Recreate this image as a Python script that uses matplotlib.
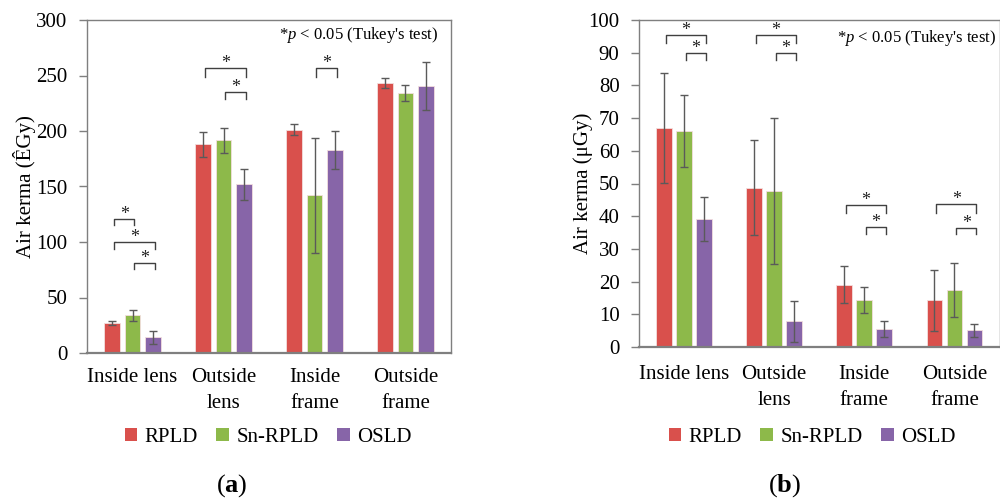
import matplotlib
matplotlib.use("Agg")
import matplotlib.pyplot as plt
import numpy as np
from matplotlib.patches import Patch

plt.rcParams['font.family'] = ['Liberation Serif', 'DejaVu Serif']
plt.rcParams['mathtext.fontset'] = 'custom'
plt.rcParams['mathtext.rm'] = 'Liberation Serif'
plt.rcParams['mathtext.it'] = 'Liberation Serif:italic'
plt.rcParams['mathtext.bf'] = 'Liberation Serif:bold'

categories = ["Inside lens", "Outside\nlens", "Inside\nframe", "Outside\nframe"]
series = ["RPLD", "Sn-RPLD", "OSLD"]
colors = ["#D9504C", "#8DB94A", "#8765A8"]

# Panel (a)
a_vals = {"RPLD": [27, 188, 201, 243.5],
          "Sn-RPLD": [34, 191.5, 142, 234],
          "OSLD": [14, 152, 183, 240.5]}
a_err = {"RPLD": [1.5, 11, 5, 4.5],
         "Sn-RPLD": [5, 11.5, 52, 7],
         "OSLD": [6, 14, 17, 21.5]}
# brackets: (group, bar_i, bar_j, y_top, y_leg)
a_brackets = [(0, 0, 1, 121, 115), (0, 0, 2, 100, 94), (0, 1, 2, 81.5, 76),
              (1, 0, 2, 257, 249), (1, 1, 2, 235, 228.5),
              (2, 1, 2, 257, 249)]

# Panel (b)
b_vals = {"RPLD": [67.1, 48.7, 19.1, 14.3],
          "Sn-RPLD": [66.0, 47.7, 14.3, 17.4],
          "OSLD": [39.2, 7.8, 5.6, 5.1]}
b_err = {"RPLD": [16.8, 14.5, 5.6, 9.4],
         "Sn-RPLD": [11.0, 22.4, 4.0, 8.2],
         "OSLD": [6.8, 6.4, 2.5, 2.0]}
b_brackets = [(0, 0, 2, 95.5, 92.9), (0, 1, 2, 89.8, 87.8),
              (1, 0, 2, 95.5, 92.9), (1, 1, 2, 89.8, 87.8),
              (2, 0, 2, 43.5, 41.0), (2, 1, 2, 36.6, 34.5),
              (3, 0, 2, 43.8, 41.1), (3, 1, 2, 36.3, 34.5)]

W = 10.0
H = 4.99
fig = plt.figure(figsize=(W, H), dpi=100)

offsets = np.array([-0.222, 0.0, 0.222])
bw = 0.175
x = np.arange(len(categories))
spine_c = "#7f7f7f"
err_c = "#5a5a5a"
fs = 15


def draw(ax, vals, errs, brackets, ymax, ystep, ylabel, note_x, note_y, pad, ylab_pad):
    for k, s in enumerate(series):
        ax.bar(x + offsets[k], vals[s], width=bw, color=colors[k],
               edgecolor="#f3dede", linewidth=0.6, zorder=2)
        ax.errorbar(x + offsets[k], vals[s], yerr=errs[s], fmt="none",
                    ecolor=err_c, elinewidth=1.0, capsize=3.2, capthick=1.0, zorder=3)
    for g, i, j, yt, yl in brackets:
        x1 = g + offsets[i] + 0.02
        x2 = g + offsets[j] + 0.02
        ax.plot([x1, x1, x2, x2], [yl, yt, yt, yl], color="#404040", lw=1.0, zorder=4)
        ax.text((x1 + x2) / 2, yt - ymax * 0.012, "*", ha="center", va="bottom",
                fontsize=13, color="#222222")
    ax.set_xlim(-0.5, 3.5)
    ax.set_ylim(0, ymax)
    ax.set_yticks(np.arange(0, ymax + 0.1, ystep))
    ax.set_xticks(x)
    ax.set_xticklabels(categories, fontsize=fs, linespacing=1.5)
    ax.tick_params(axis="x", length=0, pad=pad)
    ax.tick_params(axis="y", length=6, width=1.0, color=spine_c, labelsize=fs, pad=8)
    for sp in ax.spines.values():
        sp.set_color(spine_c)
        sp.set_linewidth(1.0)
    ax.spines["bottom"].set_linewidth(1.6)
    ax.set_ylabel(ylabel, fontsize=fs, labelpad=ylab_pad)
    ax.text(note_x, note_y, "*$\\it{p}$ < 0.05 (Tukey's test)",
            transform=ax.transAxes, ha="right", va="center", fontsize=12)


ax1 = fig.add_axes([0.087, 1 - 353 / 499, 0.364, (353 - 20) / 499])
draw(ax1, a_vals, a_err, a_brackets, 300, 50, "Air kerma (ÊGy)", 0.965, 0.955, 11, 0.5)

ax2 = fig.add_axes([0.639, 1 - 347 / 499, 0.3605, (347 - 20) / 499])
draw(ax2, b_vals, b_err, b_brackets, 100, 10, "Air kerma (μGy)", 0.99, 0.945, 13, -3)

handles = [Patch(facecolor=c, edgecolor="none") for c in colors]
for cx in (0.268, 0.812):
    fig.legend(handles, series, loc="center", bbox_to_anchor=(cx, 1 - 437 / 499),
               ncol=3, frameon=False, fontsize=fs, handlelength=0.6, handleheight=0.6,
               handletextpad=0.35, columnspacing=0.9)

fig.text(0.232, 1 - 486 / 499, "($\\bf{a}$)", ha="center", va="center", fontsize=19)
fig.text(0.785, 1 - 486 / 499, "($\\bf{b}$)", ha="center", va="center", fontsize=19)

fig.savefig("out.png", dpi=100)
